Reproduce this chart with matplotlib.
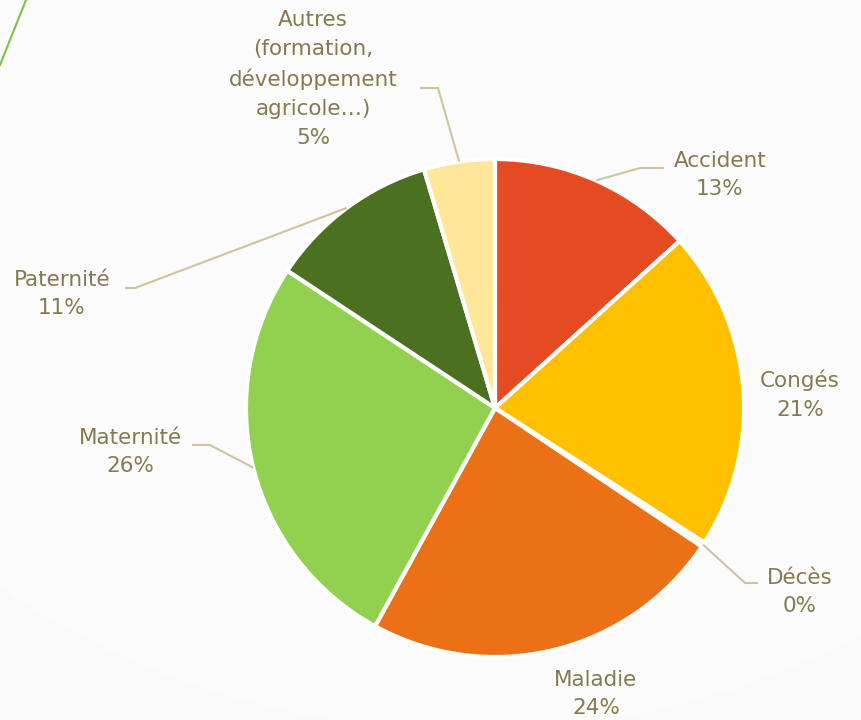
import numpy as np
import matplotlib.pyplot as plt
from matplotlib.patches import Ellipse

# données (en %)
labels = ['Accident', 'Congés', 'Décès', 'Maladie', 'Maternité', 'Paternité',
          'Autres\n(formation,\ndéveloppement\nagricole…)']
values = [13.3, 20.8, 0.3, 23.6, 26.3, 11.1, 4.6]
colors = ['#E54B22', '#FFC000', '#FFC000', '#EC7016', '#92D050', '#4A7020', '#FFE699']

W, H = 862, 720
cx, cy, R = 495, 408, 249

# position du texte (pixels, haut-gauche = 0,0) et coude de la ligne de rappel
text_pos = [(720, 175), (800, 395), (800, 592), (596, 694), (130, 452), (62, 294), (313, 79)]
elbow = [(640, 168), None, (745, 583), None, (210, 445), (135, 288), (438, 88)]
line_end = [(664, 168), None, (758, 583), None, (192, 445), (125, 288), (420, 88)]

fig = plt.figure(figsize=(W / 100, H / 100), dpi=100)
fig.patch.set_facecolor('#F9F9F9')
ax = fig.add_axes([0, 0, 1, 1])
ax.set_xlim(0, W)
ax.set_ylim(0, H)
ax.set_aspect('equal')
ax.axis('off')

# fond : halo très clair
ax.add_patch(Ellipse((470, 640), 1500, 1300, color='#FBFBFB', zorder=0))
ax.plot([26, 0], [H, H - 65], color='#7DC242', lw=1.5, zorder=1)

wedges, _ = ax.pie(values, colors=colors, startangle=90, counterclock=False,
                   center=(cx, H - cy), radius=R,
                   wedgeprops=dict(edgecolor='white', linewidth=3))
ax.set_xlim(0, W)
ax.set_ylim(0, H)

txt_color = '#857A4E'
line_color = '#CFC49E'
total = sum(values)
for i, w in enumerate(wedges):
    mid = np.deg2rad((w.theta1 + w.theta2) / 2)
    sx, sy = cx + R * np.cos(mid), (H - cy) + R * np.sin(mid)
    if elbow[i] is not None:
        ex, ey = elbow[i]
        lx, ly = line_end[i]
        ax.plot([sx, ex, lx], [sy, H - ey, H - ly], color=line_color, lw=1.5,
                solid_capstyle='butt', zorder=3)
    pct = '%d%%' % round(values[i] / total * 100)
    tx, ty = text_pos[i]
    ax.text(tx, H - ty, labels[i] + '\n' + pct, ha='center', va='center',
            color=txt_color, fontsize=15.5, family='DejaVu Sans',
            linespacing=1.55)

fig.savefig('out.png', dpi=100, facecolor=fig.get_facecolor())
